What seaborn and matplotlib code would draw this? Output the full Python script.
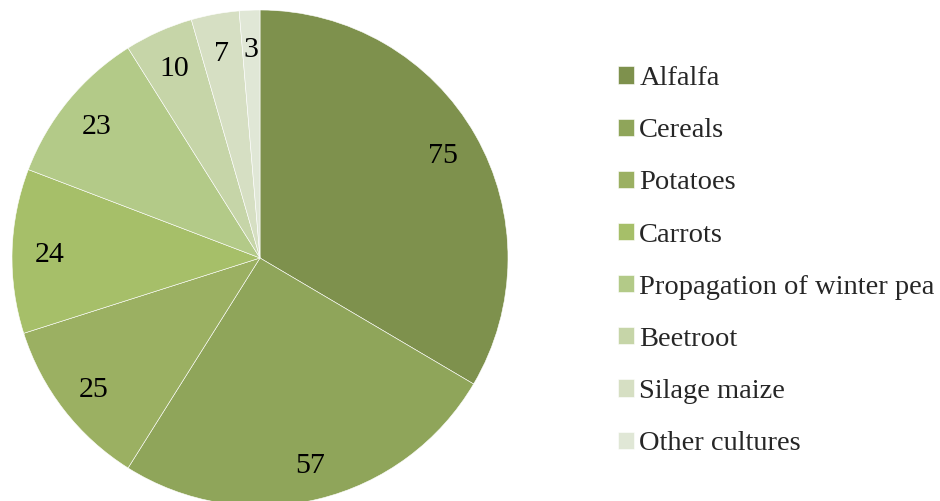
import matplotlib
matplotlib.use("Agg")
import matplotlib.pyplot as plt
import seaborn as sns

cultures = ["Alfalfa", "Cereals", "Potatoes", "Carrots",
            "Propagation of winter pea", "Beetroot", "Silage maize", "Other cultures"]
area = [75, 57, 25, 24, 23, 10, 7, 3]
colors = ["#7E914D", "#8FA55A", "#9BB062", "#A6BF69",
          "#B3CA88", "#C6D5A8", "#D6DFC3", "#E0E7D6"]

sns.set_theme(style="white")
plt.rcParams["font.family"] = ["Liberation Serif", "DejaVu Serif"]

fig = plt.figure(figsize=(9.4, 5.01), dpi=100)
# pie centred at (260, 258) px, radius ~248 px
ax = fig.add_axes([12 / 940, (501 - 258 - 248) / 501, 496 / 940, 496 / 501])

wedges, texts = ax.pie(area, colors=colors, startangle=90, counterclock=False,
                       labels=[str(v) for v in area], labeldistance=0.85, radius=1,
                       wedgeprops=dict(edgecolor="white", linewidth=0.4),
                       textprops=dict(fontsize=21.5, color="black"))
for t in texts:
    t.set_horizontalalignment("center")
    t.set_verticalalignment("center_baseline")
ax.set_xlim(-1, 1)
ax.set_ylim(-1, 1)
ax.set_aspect("equal")

fig.legend(wedges, cultures, loc="upper left", bbox_to_anchor=(618 / 940, 1 - 66 / 501),
           frameon=False, fontsize=20.5, handlelength=0.55, handleheight=0.55,
           handletextpad=0.2, labelspacing=0.955, borderpad=0, borderaxespad=0)

fig.savefig("out.png", dpi=100)
